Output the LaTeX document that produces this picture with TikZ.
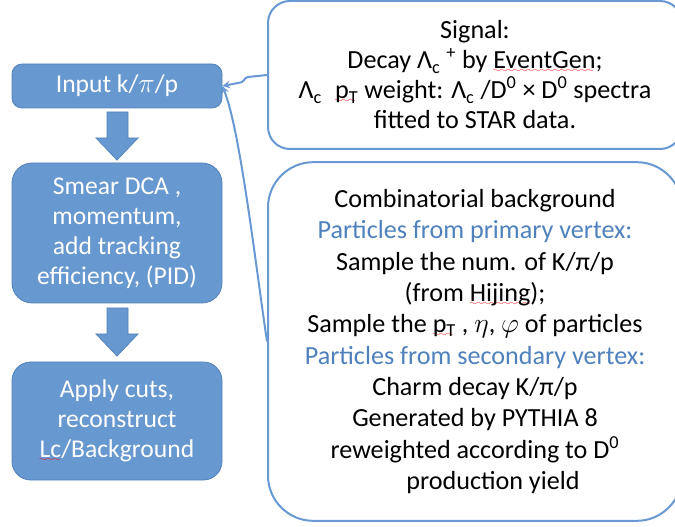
\documentclass[tikz,border=0pt]{standalone}
\usepackage{fontspec}
\setmainfont{Carlito}
\usepackage{tikz}
\usetikzlibrary{arrows}
\definecolor{boxblue}{RGB}{103,152,207}
\definecolor{boxedge}{RGB}{84,130,186}
\definecolor{lineblue}{RGB}{104,153,211}
\definecolor{headblue}{RGB}{79,129,189}
\font\sixly=lasy6
\newcommand{\spellmark}[1]{\leavevmode\setbox0\hbox{#1}\rlap{\textcolor{red}{\leaders\hbox{\lower3pt\hbox{\sixly\char58}}\hskip\wd0}}\box0\relax}
\tikzset{
  flowbox/.style={draw=boxedge, fill=boxblue, text=white, line width=0.6pt, inner sep=0pt,
    minimum width=157.5pt, align=center, font=\fontsize{19.2}{22.5}\selectfont},
  notebox/.style={draw=lineblue, fill=white, line width=1.5pt, inner sep=0pt,
    minimum width=310.5pt, align=center},
  downarrow/.style={draw=boxedge, fill=boxblue, line width=0.6pt},
  link/.style={draw=lineblue, line width=1.5pt, -stealth}
}

\begin{document}
\begin{tikzpicture}[x=0.75pt,y=-0.75pt]
			\clip (0,0) rectangle (675,527);
			% left column
			\node[flowbox, minimum height=33pt, rounded corners=7.5pt] (input) at (117,86) {Input k/$\pi$/p};
			\node[flowbox, minimum height=105pt, rounded corners=15pt] (smear) at (117,233) {Smear DCA ,\\ momentum,\\ add tracking\\ efficiency, (PID)};
			\node[flowbox, minimum height=88.5pt, rounded corners=14pt] (cuts) at (117,421) {Apply cuts,\\ reconstruct\\ \spellmark{Lc}/Background};
			\draw[downarrow] (107,112) -- (128,112) -- (128,138) -- (138,138) -- (117,160) -- (96,138) -- (107,138) -- cycle;
			\draw[downarrow, shift={(0,196)}] (107,112) -- (128,112) -- (128,138) -- (138,138) -- (117,160) -- (96,138) -- (107,138) -- cycle;
			
			% right column
			\node[notebox, minimum height=111pt, rounded corners=16.5pt, font=\fontsize{19.6}{22.5}\selectfont] (sig) at (475,75) {Signal:\\
				Decay Λ\textsubscript{c} \textsuperscript{+} by \spellmark{EventGen};\\
				Λ\textsubscript{c}\enspace\spellmark{p\textsubscript{T}} weight: Λ\textsubscript{c} /D\textsuperscript{0} × D\textsuperscript{0} spectra\\
				fitted to STAR data.};
			\node[notebox, minimum height=269pt, rounded corners=34pt, font=\fontsize{19.6}{23.5}\selectfont] (bg) at (475,341.5) {Combinatorial background\\
				\textcolor{headblue}{Particles from primary vertex:}\\
				Sample the num. of K/π/p\\
				(from \spellmark{Hijing});\\
				Sample the \spellmark{p\textsubscript{T}} , $\eta$, $\varphi$ of particles\\
				\textcolor{headblue}{Particles from secondary vertex:}\\
				Charm decay K/π/p\\
				Generated by PYTHIA 8\\
				reweighted according to D\textsuperscript{0}\\
				\hspace*{27pt}production yield};
			
			\draw[link] (sig.west) -- (248,77) .. controls (243,78) and (246,82) .. (238,83) -- (input.east);
			\draw[link] (bg.west) .. controls (255,260) and (240,130) .. (input.east);
		\end{tikzpicture}
\end{document}
